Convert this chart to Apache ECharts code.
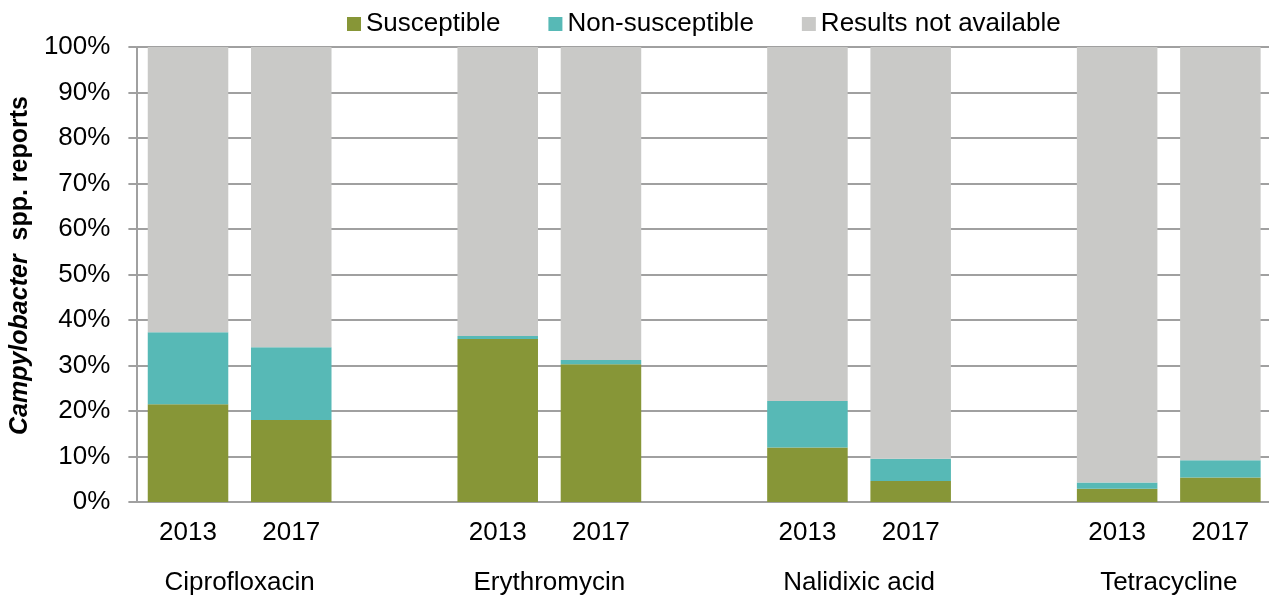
<!DOCTYPE html>
<html>
<head>
<meta charset="utf-8">
<script src="https://cdn.jsdelivr.net/npm/echarts@6/dist/echarts.min.js"></script>
<style>html,body{margin:0;padding:0;background:#fff;overflow:hidden;}#c{width:1290px;height:597px;}</style>
</head>
<body>
<div id="c"></div>
<script>
const years = ['2013','2017','','2013','2017','','2013','2017','','2013','2017'];
const groups = ['Ciprofloxacin','Erythromycin','Nalidixic acid','Tetracycline'];
const yTicks = [0,10,20,30,40,50,60,70,80,90,100];
const susceptible    = [21.5, 18.0, '-', 35.8, 30.3, '-', 12.0, 4.6, '-', 2.9, 5.4];
const nonSusceptible = [15.8, 16.0, '-', 0.7, 0.9, '-', 10.2, 4.9, '-', 1.4, 3.8];
const notAvailable   = [62.7, 66.0, '-', 63.5, 68.8, '-', 77.8, 90.5, '-', 95.7, 90.8];
const seriesNames = ['Susceptible','Non-susceptible','Results not available'];

const FONT = '"Liberation Sans", Arial, sans-serif';
const chart = echarts.init(document.getElementById('c'));
const axisGray = '#a0a0a0';
function bar(name, data, color){
  return {name, type:'bar', stack:'s', data, barCategoryGap:'22%',
    itemStyle:{color}, emphasis:{disabled:true}, xAxisIndex:0, yAxisIndex:0};
}
chart.setOption({
  animation:false,
  textStyle:{fontFamily:FONT},
  legend:{
    left:342, top:6, itemWidth:14, itemHeight:14, itemGap:48,
    icon:'rect', data:seriesNames,
    textStyle:{fontFamily:FONT, fontSize:26, color:'#000'}
  },
  grid:{left:136, top:47, width:1136, height:455, containLabel:false},
  xAxis:[{
    type:'category', data:years,
    axisLine:{lineStyle:{color:axisGray, width:2}},
    axisTick:{show:false},
    axisLabel:{fontFamily:FONT, fontSize:26, color:'#000', margin:18, interval:0}
  },{
    type:'value', min:0, max:11, interval:1, position:'bottom',
    axisLine:{show:false}, axisTick:{show:false}, splitLine:{show:false},
    axisLabel:{fontFamily:FONT, fontSize:26, color:'#000', margin:68, showMinLabel:true, showMaxLabel:true,
      formatter:function(v){ const i=(v-1)/3; return (Number.isInteger(i) && groups[i]) ? groups[i] : ''; }}
  }],
  yAxis:{
    type:'value', min:yTicks[0], max:yTicks[yTicks.length-1], interval:10,
    name:'{i|Campylobacter}{b|  spp. reports}',
    nameLocation:'middle', nameRotate:90, nameGap:97,
    nameTextStyle:{padding:[0,0,0,18], rich:{
      i:{fontFamily:FONT, fontSize:25, fontWeight:'bold', fontStyle:'italic', color:'#000'},
      b:{fontFamily:FONT, fontSize:25, fontWeight:'bold', color:'#000'}
    }},
    axisLine:{show:true, lineStyle:{color:axisGray, width:2}},
    axisTick:{show:true, length:8, lineStyle:{color:axisGray, width:2}},
    splitLine:{lineStyle:{color:axisGray, width:2}},
    axisLabel:{fontFamily:FONT, fontSize:26, color:'#000', margin:26, formatter:'{value}%'}
  },
  series:[
    bar(seriesNames[0], susceptible, '#879637'),
    bar(seriesNames[1], nonSusceptible, '#57b9b6'),
    bar(seriesNames[2], notAvailable, '#c9c9c7')
  ]
});
</script>
</body>
</html>
